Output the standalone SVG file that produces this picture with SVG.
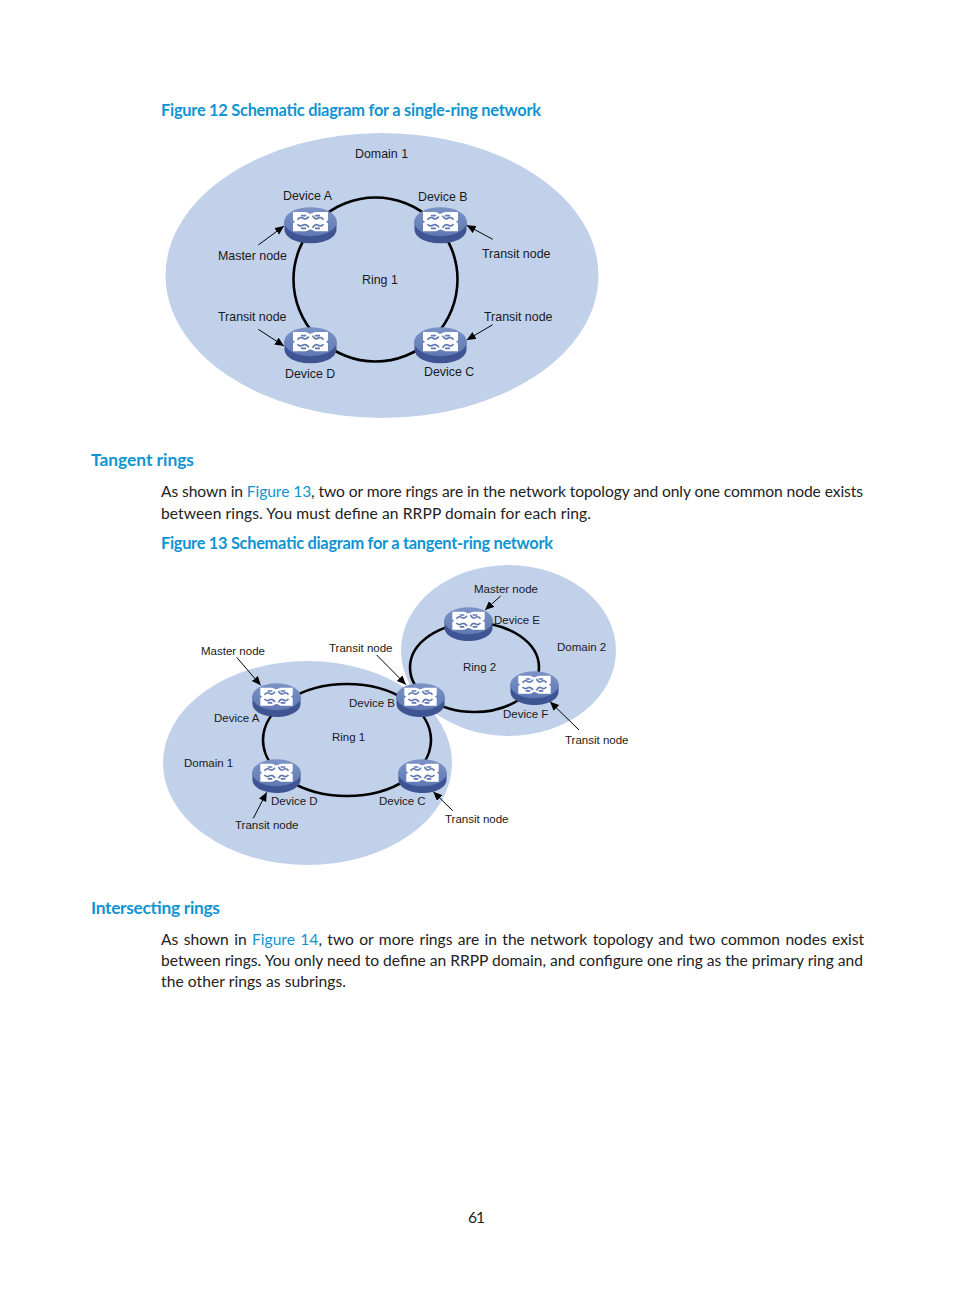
<svg xmlns="http://www.w3.org/2000/svg" xmlns:xlink="http://www.w3.org/1999/xlink" width="954" height="1296" viewBox="0 0 954 1296">
<style>
.lb{font-family:"Liberation Sans",Arial,sans-serif;font-size:12.4px;fill:#1a1a1a}
.ls{font-family:"Liberation Sans",Arial,sans-serif;font-size:11.5px;fill:#1a1a1a}
.h{font-family:Lato,"Open Sans",sans-serif;font-weight:700;fill:#0f94d2}
.b{font-family:Lato,"Open Sans",sans-serif;font-size:15.6px;fill:#222}
.l{fill:#0f94d2}
.dom{fill:#c1d1ea}
.ring{fill:none;stroke:#000;stroke-width:2.6}
.ar{fill:none;stroke:#000;stroke-width:1;marker-end:url(#ah)}
</style>
<defs>
<marker id="ah" markerUnits="userSpaceOnUse" markerWidth="10" markerHeight="9" refX="9" refY="4" orient="auto"><path d="M0 0L9 4L0 8Z" fill="#000"/></marker>
<linearGradient id="top" x1="0" y1="0" x2="0" y2="1"><stop offset="0" stop-color="#7b93c6"/><stop offset="1" stop-color="#6079b3"/></linearGradient>
<symbol id="sw" viewBox="0 0 53 36" preserveAspectRatio="none">
<path d="M0.5 14V22C0.5 30 12 36 26.5 36S52.5 30 52.5 22V14Z" fill="#3f5593"/>
<ellipse cx="26.5" cy="14.5" rx="26.3" ry="14.3" fill="url(#top)"/>
<path d="M9 5H22L26 7L31 5H44V13L42 14.500L44 16V24H31L26.500 22L22 24H9V16L11 14.500L9 13Z" fill="#fff"/>
<g fill="none" stroke="#5f78b3" stroke-width="1.7">
<path d="M13.500 12.500C16 9 18 10.500 20 11.500C22 12.500 23 11 25 9.500"/>
<path d="M39.500 12.500C37 9 35 10.500 33 11.500C31 12.500 30 11 28.500 8.500"/>
<path d="M13.500 17C16 20 18 18.500 20 17.500C22 16.500 23 18 25 20"/>
<path d="M39.500 17C37 20 35 18.500 33 17.500C31 16.500 30 18 28.500 20.500"/>
<path d="M17 8.500H22M31 8.500H36M17 21H22M31 21H36"/>
</g>
</symbol>
</defs>
<rect width="954" height="1296" fill="#fff"/>

<g id="page-text">
<text class="h" x="161" y="116" font-size="16.4" textLength="380">Figure 12 Schematic diagram for a single-ring network</text>
<text class="h" x="91" y="466" font-size="17.4" textLength="103">Tangent rings</text>
<text class="b" x="161" y="496.500" textLength="702">As shown in <tspan class="l">Figure 13</tspan>, two or more rings are in the network topology and only one common node exists</text>
<text class="b" x="161" y="518.500" textLength="430">between rings. You must define an RRPP domain for each ring.</text>
<text class="h" x="161" y="549" font-size="16.4" textLength="392">Figure 13 Schematic diagram for a tangent-ring network</text>
<text class="h" x="91" y="914" font-size="17.4" textLength="129">Intersecting rings</text>
<text class="b" x="161" y="944.500" word-spacing="1.4" textLength="703">As shown in <tspan class="l">Figure 14</tspan>, two or more rings are in the network topology and two common nodes exist</text>
<text class="b" x="161" y="965.500" textLength="702">between rings. You only need to define an RRPP domain, and configure one ring as the primary ring and</text>
<text class="b" x="161" y="986.500" textLength="185">the other rings as subrings.</text>
<text class="b" x="468" y="1222.500" textLength="17">61</text>
</g>

<g id="domains">
<ellipse id="fig12-domain1" class="dom" cx="382" cy="275.5" rx="216.500" ry="142.5"/>
<ellipse id="fig13-domain2" class="dom" cx="508.5" cy="650.5" rx="107.5" ry="85.5"/>
<ellipse id="fig13-domain1" class="dom" cx="307.5" cy="763" rx="144.5" ry="102"/>
</g>

<g id="connectors">
<ellipse class="ring" cx="375.5" cy="279.5" rx="82" ry="82"/>
<ellipse class="ring" cx="347" cy="740" rx="84" ry="56"/>
<ellipse class="ring" cx="474.5" cy="667.5" rx="64.5" ry="44.5"/>
</g>

<g id="fig12-nodes">
<g id="f12-device-a"><use xlink:href="#sw" href="#sw" x="284" y="207" width="53" height="36.5"/></g>
<g id="f12-device-b"><use xlink:href="#sw" href="#sw" x="414" y="207" width="53" height="36.5"/></g>
<g id="f12-device-d"><use xlink:href="#sw" href="#sw" x="284" y="327" width="53" height="36.5"/></g>
<g id="f12-device-c"><use xlink:href="#sw" href="#sw" x="414" y="327" width="53" height="36.5"/></g>
</g>
<g id="fig13-nodes">
<g id="f13-device-a"><use xlink:href="#sw" href="#sw" x="252" y="683" width="49" height="34"/></g>
<g id="f13-device-b"><use xlink:href="#sw" href="#sw" x="396" y="683" width="49" height="34"/></g>
<g id="f13-device-c"><use xlink:href="#sw" href="#sw" x="398" y="759" width="49" height="34"/></g>
<g id="f13-device-d"><use xlink:href="#sw" href="#sw" x="252" y="759" width="49" height="34"/></g>
<g id="f13-device-e"><use xlink:href="#sw" href="#sw" x="444" y="607" width="49" height="34"/></g>
<g id="f13-device-f"><use xlink:href="#sw" href="#sw" x="510" y="671" width="49" height="34"/></g>
</g>

<g id="arrows">
<line class="ar" x1="258.3" y1="245" x2="284" y2="226"/>
<line class="ar" x1="492.7" y1="239.3" x2="466.7" y2="225.3"/>
<line class="ar" x1="258.3" y1="329.3" x2="284" y2="346"/>
<line class="ar" x1="492.7" y1="324.7" x2="466.7" y2="340"/>
<line class="ar" x1="236.7" y1="657.3" x2="260.7" y2="685.3"/>
<line class="ar" x1="376.7" y1="655" x2="406" y2="684.7"/>
<line class="ar" x1="500.7" y1="596" x2="485" y2="610"/>
<line class="ar" x1="579" y1="730" x2="550" y2="701.7"/>
<line class="ar" x1="452.7" y1="810.7" x2="433.3" y2="791.7"/>
<line class="ar" x1="253.3" y1="818.3" x2="266.7" y2="792.3"/>
</g>

<g id="labels">
<text class="lb" x="355" y="158">Domain 1</text>
<text class="lb" x="283" y="200">Device A</text>
<text class="lb" x="418" y="201">Device B</text>
<text class="lb" x="218" y="260">Master node</text>
<text class="lb" x="482" y="258">Transit node</text>
<text class="lb" x="362" y="284">Ring 1</text>
<text class="lb" x="218" y="321">Transit node</text>
<text class="lb" x="484" y="321">Transit node</text>
<text class="lb" x="285" y="378">Device D</text>
<text class="lb" x="424" y="376">Device C</text>

<text class="ls" x="474" y="593">Master node</text>
<text class="ls" x="494" y="624">Device E</text>
<text class="ls" x="557" y="651">Domain 2</text>
<text class="ls" x="329" y="652">Transit node</text>
<text class="ls" x="201" y="655">Master node</text>
<text class="ls" x="463" y="671">Ring 2</text>
<text class="ls" x="349" y="707">Device B</text>
<text class="ls" x="503" y="718">Device F</text>
<text class="ls" x="214" y="722">Device A</text>
<text class="ls" x="332" y="741">Ring 1</text>
<text class="ls" x="565" y="744">Transit node</text>
<text class="ls" x="184" y="767">Domain 1</text>
<text class="ls" x="271" y="805">Device D</text>
<text class="ls" x="379" y="805">Device C</text>
<text class="ls" x="445" y="823">Transit node</text>
<text class="ls" x="235" y="829">Transit node</text>
</g>
</svg>
